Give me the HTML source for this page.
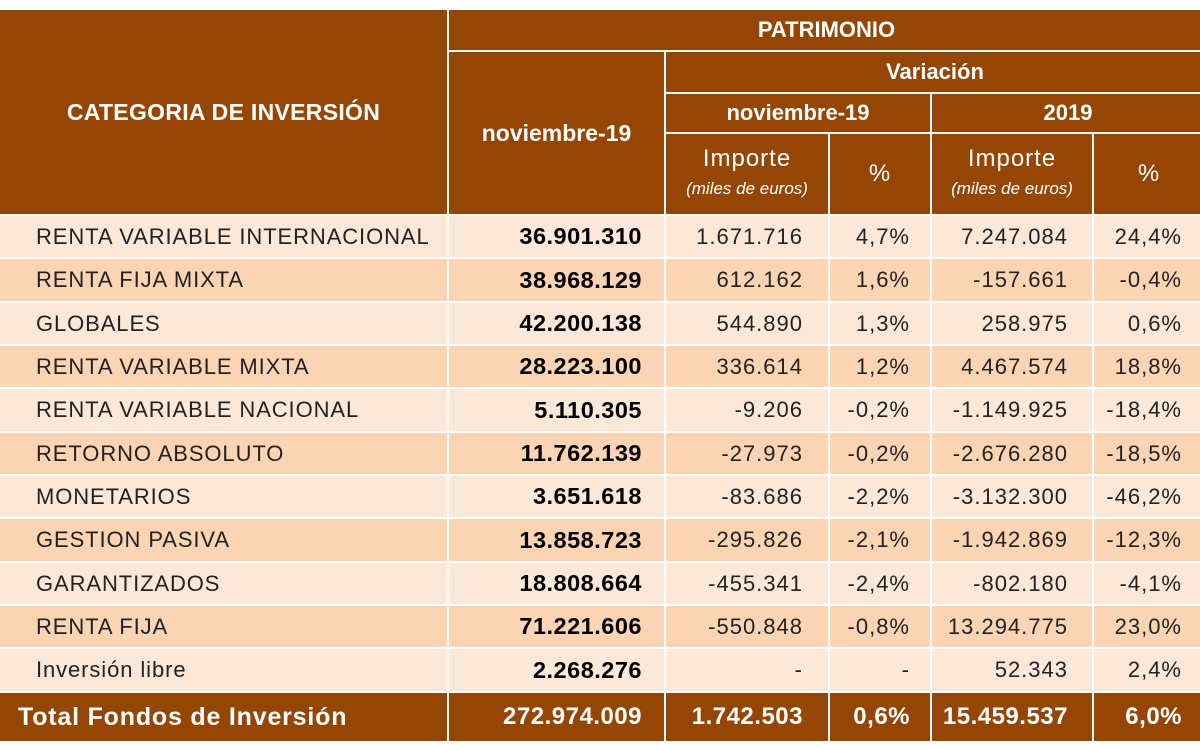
<!DOCTYPE html>
<html><head><meta charset="utf-8"><style>
body{margin:0;width:1200px;height:750px;background:#fff;overflow:hidden;font-family:"Liberation Sans",sans-serif}
table{position:absolute;left:-2px;top:8px;width:1206px;border-collapse:separate;border-spacing:2px;table-layout:fixed}
td{padding:0;overflow:hidden;white-space:nowrap}
.h{background:#954604;color:#fff;font-weight:bold;text-align:center;font-size:22px}
.l td{background:#fce8d9}.d td{background:#fbd4b4}
.l td,.d td{font-size:22px;color:#222;text-align:right;letter-spacing:1px}
td.n{text-align:left;padding-left:36px;letter-spacing:0.9px}
td.b{font-weight:bold;color:#000;letter-spacing:0.5px;padding-right:22px;font-size:23.5px}
td.c3{padding-right:25px}td.c4{padding-right:20px}td.c5{padding-right:24px}td.c6{padding-right:22px}
.t td{background:#954604;color:#fff;font-weight:bold;font-size:24px;text-align:right;letter-spacing:0.5px}
.imp{font-weight:normal;font-size:24px;letter-spacing:1px;line-height:30px}
.imp i{font-size:17px;letter-spacing:0;display:block;line-height:30px}
</style></head><body>
<table>
<col style="width:447px"><col style="width:215px"><col style="width:162px"><col style="width:100px"><col style="width:160px"><col style="width:110px">
<tr style="height:40px"><td class="h" rowspan="4" style="font-size:23px;letter-spacing:0.3px">CATEGORIA DE INVERSIÓN</td><td class="h" colspan="5">PATRIMONIO</td></tr>
<tr style="height:40px"><td class="h" rowspan="3" style="font-size:23px">noviembre-19</td><td class="h" colspan="4">Variación</td></tr>
<tr style="height:38px"><td class="h" colspan="2">noviembre-19</td><td class="h" colspan="2">2019</td></tr>
<tr style="height:80px"><td class="h imp">Importe<i>(miles de euros)</i></td><td class="h imp">%</td><td class="h imp">Importe<i>(miles de euros)</i></td><td class="h imp">%</td></tr>
<tr class="l" style="height:41px"><td class="n">RENTA VARIABLE INTERNACIONAL</td><td class="b">36.901.310</td><td class="c3">1.671.716</td><td class="c4">4,7%</td><td class="c5">7.247.084</td><td class="c6">24,4%</td></tr>
<tr class="d" style="height:42px"><td class="n">RENTA FIJA MIXTA</td><td class="b">38.968.129</td><td class="c3">612.162</td><td class="c4">1,6%</td><td class="c5">-157.661</td><td class="c6">-0,4%</td></tr>
<tr class="l" style="height:41px"><td class="n">GLOBALES</td><td class="b">42.200.138</td><td class="c3">544.890</td><td class="c4">1,3%</td><td class="c5">258.975</td><td class="c6">0,6%</td></tr>
<tr class="d" style="height:41px"><td class="n">RENTA VARIABLE MIXTA</td><td class="b">28.223.100</td><td class="c3">336.614</td><td class="c4">1,2%</td><td class="c5">4.467.574</td><td class="c6">18,8%</td></tr>
<tr class="l" style="height:42px"><td class="n">RENTA VARIABLE NACIONAL</td><td class="b">5.110.305</td><td class="c3">-9.206</td><td class="c4">-0,2%</td><td class="c5">-1.149.925</td><td class="c6">-18,4%</td></tr>
<tr class="d" style="height:41px"><td class="n">RETORNO ABSOLUTO</td><td class="b">11.762.139</td><td class="c3">-27.973</td><td class="c4">-0,2%</td><td class="c5">-2.676.280</td><td class="c6">-18,5%</td></tr>
<tr class="l" style="height:41px"><td class="n">MONETARIOS</td><td class="b">3.651.618</td><td class="c3">-83.686</td><td class="c4">-2,2%</td><td class="c5">-3.132.300</td><td class="c6">-46,2%</td></tr>
<tr class="d" style="height:42px"><td class="n">GESTION PASIVA</td><td class="b">13.858.723</td><td class="c3">-295.826</td><td class="c4">-2,1%</td><td class="c5">-1.942.869</td><td class="c6">-12,3%</td></tr>
<tr class="l" style="height:41px"><td class="n">GARANTIZADOS</td><td class="b">18.808.664</td><td class="c3">-455.341</td><td class="c4">-2,4%</td><td class="c5">-802.180</td><td class="c6">-4,1%</td></tr>
<tr class="d" style="height:41px"><td class="n">RENTA FIJA</td><td class="b">71.221.606</td><td class="c3">-550.848</td><td class="c4">-0,8%</td><td class="c5">13.294.775</td><td class="c6">23,0%</td></tr>
<tr class="l" style="height:42px"><td class="n">Inversión libre</td><td class="b">2.268.276</td><td class="c3">-</td><td class="c4">-</td><td class="c5">52.343</td><td class="c6">2,4%</td></tr>
<tr class="t" style="height:48px"><td style="text-align:left;padding-left:18px;font-size:25px;letter-spacing:0.8px">Total Fondos de Inversión</td><td style="padding-right:22px">272.974.009</td><td style="padding-right:25px">1.742.503</td><td style="padding-right:20px">0,6%</td><td style="padding-right:24px">15.459.537</td><td style="padding-right:22px">6,0%</td></tr>
</table>
</body></html>
